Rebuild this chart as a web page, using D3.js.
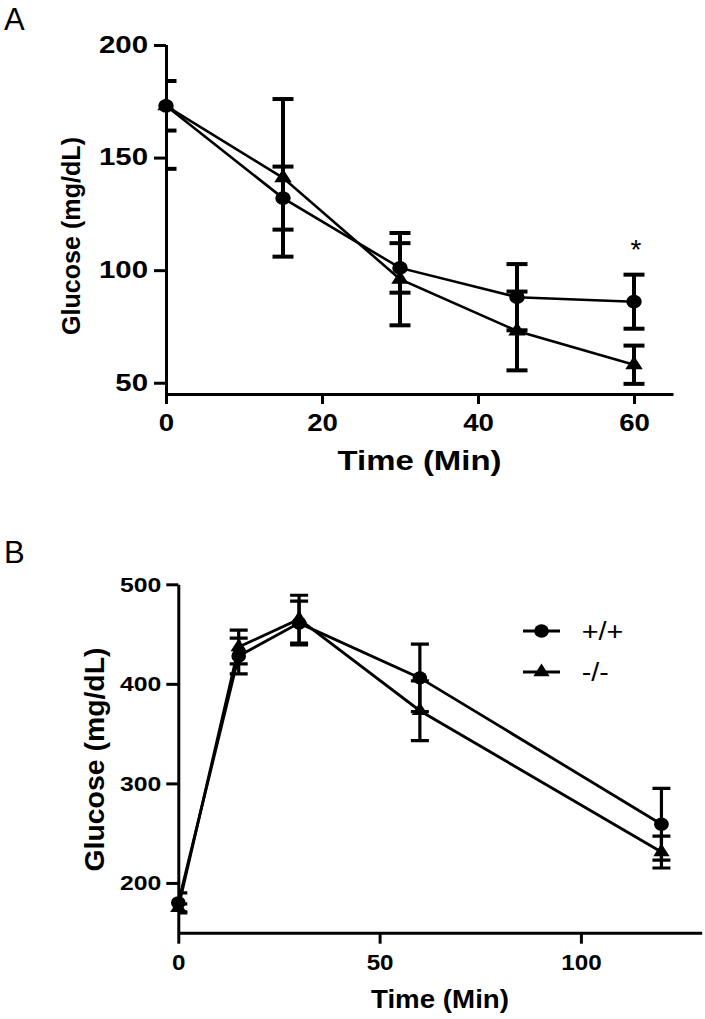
<!DOCTYPE html>
<html>
<head>
<meta charset="utf-8">
<script src="https://cdn.jsdelivr.net/npm/d3@7"></script>
<style>
  html, body { margin: 0; padding: 0; background: #fff; }
  svg { display: block; }
  text { font-family: "Liberation Sans", Arial, Helvetica, sans-serif; fill: #000; }
</style>
</head>
<body>
<svg id="chart" width="705" height="1019"></svg>
<script>
// ---------------- DATA ----------------
const seriesNames = ["+/+", "-/-"];

// Panel A (insulin tolerance)
const aTimes   = [0, 15, 30, 45, 60];
const aWtMean  = [173, 132, 101, 88, 86];
const aWtSem   = [11, 14, 11, 14.7, 12];
const aKoMean  = [173, 141, 96, 73, 58];
const aKoSem   = [28, 35, 20.5, 17.5, 8.5];
const aXTicks  = [0, 20, 40, 60];
const aYTicks  = [50, 100, 150, 200];
const aSigTimes = [60];

// Panel B (glucose tolerance)
const bTimes   = [0, 15, 30, 60, 120];
const bWtMean  = [180, 428, 461, 406, 259];
const bWtSem   = [10, 18, 22, 34, 36];
const bKoMean  = [175, 437, 465, 373, 231];
const bKoSem   = [4, 17, 24, 30, 16];
const bXTicks  = [0, 50, 100];
const bYTicks  = [200, 300, 400, 500];

const yTitle = "Glucose (mg/dL)";
const xTitle = "Time (Min)";

// ---------------- HELPERS ----------------
const svg = d3.select("#chart");

function stretchX(sel, sx) {
  sel.each(function () {
    const t = d3.select(this);
    const x = +t.attr("x") || 0;
    t.attr("x", x / sx).attr("transform", `scale(${sx},1)`);
  });
}
function fitLength(sel, target) {
  sel.attr("textLength", target).attr("lengthAdjust", "spacingAndGlyphs");
}

function drawPanel(cfg) {
  const g = svg.append("g");
  const x = d3.scaleLinear().domain(cfg.xDomain).range(cfg.xRange);
  const y = d3.scaleLinear().domain(cfg.yDomain).range(cfg.yRange);

  const clipId = "clip" + cfg.id;
  g.append("clipPath").attr("id", clipId)
    .append("rect")
    .attr("x", x(cfg.xDomain[0])).attr("y", y(cfg.yDomain[1]))
    .attr("width", x(cfg.xDomain[1]) - x(cfg.xDomain[0]))
    .attr("height", y(cfg.yDomain[0]) - y(cfg.yDomain[1]));

  // axes
  const yAxis = d3.axisLeft(y).tickValues(cfg.yTicks).tickSizeInner(cfg.yTickLen).tickSizeOuter(0)
    .tickPadding(cfg.yTickPad).tickFormat(d3.format("d"));
  const xAxis = d3.axisBottom(x).tickValues(cfg.xTicks).tickSizeInner(cfg.xTickLen).tickSizeOuter(0)
    .tickPadding(cfg.xTickPad).tickFormat(d3.format("d"));

  const gy = g.append("g").attr("transform", `translate(${x(cfg.xDomain[0])},0)`).call(yAxis);
  const gx = g.append("g").attr("transform", `translate(0,${y(cfg.yDomain[0])})`).call(xAxis);
  [gx, gy].forEach(a => {
    a.select(".domain").attr("stroke", "#000").attr("stroke-width", cfg.axisW);
    a.selectAll(".tick line").attr("stroke", "#000").attr("stroke-width", cfg.axisW);
    a.selectAll(".tick text").attr("font-weight", "bold").attr("fill", "#000");
  });
  gy.selectAll(".tick text").attr("font-size", cfg.yTickFont).call(stretchX, cfg.yTickSx);
  gx.selectAll(".tick text").attr("font-size", cfg.xTickFont).call(stretchX, cfg.xTickSx);

  // series
  const series = cfg.series;
  const line = d3.line().x(d => x(d.t)).y(d => y(d.m));

  series.forEach(s => {
    g.append("path").datum(s.pts).attr("d", line)
      .attr("fill", "none").attr("stroke", "#000").attr("stroke-width", cfg.lineW)
      .attr("stroke-linejoin", "miter");
  });

  // error bars (clipped to plot area)
  const eb = g.append("g").attr("clip-path", `url(#${clipId})`);
  series.forEach(s => {
    s.pts.forEach(d => {
      const cx = x(d.t);
      eb.append("line").attr("x1", cx).attr("x2", cx)
        .attr("y1", y(d.m + d.e)).attr("y2", y(d.m - d.e))
        .attr("stroke", "#000").attr("stroke-width", cfg.ebW);
      [d.m + d.e, d.m - d.e].forEach(v => {
        eb.append("line").attr("x1", cx - cfg.capHalf).attr("x2", cx + cfg.capHalf)
          .attr("y1", y(v)).attr("y2", y(v))
          .attr("stroke", "#000").attr("stroke-width", cfg.capW);
      });
    });
  });

  // markers
  series.forEach(s => {
    s.pts.forEach(d => {
      g.append("path")
        .attr("d", d3.symbol().type(s.shape).size(s.shape === d3.symbolCircle ? cfg.circSize : cfg.triSize)())
        .attr("transform", `translate(${x(d.t)},${y(d.m)}) scale(${cfg.markSx},1)`)
        .attr("fill", "#000");
    });
  });

  // axis titles
  const xc = (x.range()[0] + x.range()[1]) / 2;
  g.append("text").attr("x", xc + cfg.xTitleDx).attr("y", cfg.xTitleY)
    .attr("text-anchor", "middle").attr("font-weight", "bold").attr("font-size", cfg.xTitleFont)
    .text(xTitle).call(fitLength, cfg.xTitleLen);
  g.append("text")
    .attr("transform", `translate(${cfg.yTitleX},${cfg.yTitleCy}) rotate(-90)`)
    .attr("text-anchor", "middle").attr("font-weight", "bold").attr("font-size", cfg.yTitleFont)
    .text(yTitle).call(fitLength, cfg.yTitleLen);

  // panel letter
  g.append("text").attr("x", cfg.letterX).attr("y", cfg.letterY)
    .attr("font-size", 31).text(cfg.letter);

  return { g, x, y };
}

function makePts(times, mean, sem) {
  return times.map((t, i) => ({ t, m: mean[i], e: sem[i] }));
}

// ---------------- PANEL A ----------------
const A = drawPanel({
  id: "A", letter: "A", letterX: 4, letterY: 30,
  xDomain: [0, 65], xRange: [166, 673],
  yDomain: [45, 200], yRange: [394, 45],
  xTicks: aXTicks, yTicks: aYTicks,
  yTickLen: 12, yTickPad: 6, xTickLen: 10, xTickPad: 11,
  yTickFont: 23, yTickSx: 1.28, xTickFont: 23, xTickSx: 1.2,
  axisW: 3, lineW: 2.6, ebW: 4, capW: 4, capHalf: 10.5,
  circSize: 150, triSize: 105, markSx: 1.12,
  xTitleDx: 0, xTitleY: 470, xTitleFont: 28, xTitleLen: 164,
  yTitleX: 80, yTitleCy: 236, yTitleFont: 26, yTitleLen: 198,
  series: [
    { name: seriesNames[0], shape: d3.symbolCircle, pts: makePts(aTimes, aWtMean, aWtSem) },
    { name: seriesNames[1], shape: d3.symbolTriangle, pts: makePts(aTimes, aKoMean, aKoSem) }
  ]
});

// significance marker
aSigTimes.forEach(t => {
  const i = aTimes.indexOf(t);
  A.g.append("text")
    .attr("x", A.x(t) + 2).attr("y", A.y(aWtMean[i] + aWtSem[i]) - 16)
    .attr("text-anchor", "middle").attr("font-size", 28)
    .text("*");
});

// ---------------- PANEL B ----------------
const B = drawPanel({
  id: "B", letter: "B", letterX: 4, letterY: 563,
  xDomain: [0, 130], xRange: [178.3, 701.7],
  yDomain: [150, 500], yRange: [932.7, 584.3],
  xTicks: bXTicks, yTicks: bYTicks,
  yTickLen: 12, yTickPad: 5, xTickLen: 11, xTickPad: 11,
  yTickFont: 21, yTickSx: 1.18, xTickFont: 22, xTickSx: 1.1,
  axisW: 3, lineW: 2.8, ebW: 3.2, capW: 3.2, capHalf: 9,
  circSize: 140, triSize: 95, markSx: 1.1,
  xTitleDx: 0, xTitleY: 1008, xTitleFont: 25.5, xTitleLen: 138,
  yTitleX: 104, yTitleCy: 759.5, yTitleFont: 27, yTitleLen: 224,
  series: [
    { name: seriesNames[0], shape: d3.symbolCircle, pts: makePts(bTimes, bWtMean, bWtSem) },
    { name: seriesNames[1], shape: d3.symbolTriangle, pts: makePts(bTimes, bKoMean, bKoSem) }
  ]
});

// legend
const legend = B.g.append("g").attr("transform", "translate(523,631)");
[d3.symbolCircle, d3.symbolTriangle].forEach((shape, i) => {
  const row = legend.append("g").attr("transform", `translate(0,${i * 41})`);
  row.append("line").attr("x1", 0).attr("x2", 37).attr("y1", 0).attr("y2", 0)
    .attr("stroke", "#000").attr("stroke-width", 2.8);
  row.append("path")
    .attr("d", d3.symbol().type(shape).size(shape === d3.symbolCircle ? 140 : 95)())
    .attr("transform", `translate(18.5,0) scale(1.1,1)`).attr("fill", "#000");
  row.append("text").attr("x", 58.7).attr("y", 8.5).attr("font-size", 25)
    .text(seriesNames[i]).call(fitLength, i === 0 ? 41.6 : 27);
});
</script>
</body>
</html>
